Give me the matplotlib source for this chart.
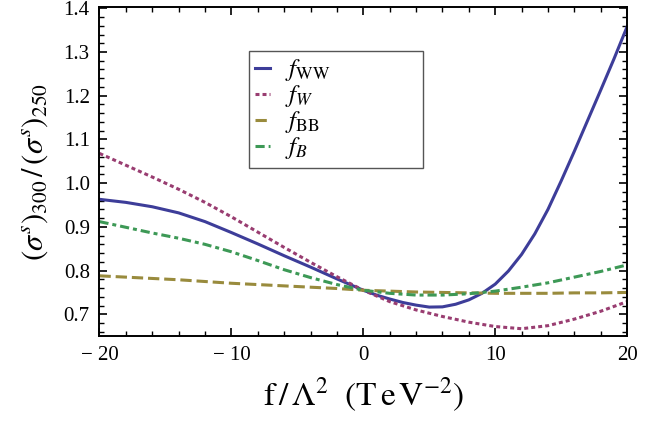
import numpy as np
import matplotlib
matplotlib.use('Agg')
import matplotlib.pyplot as plt
from matplotlib.ticker import MultipleLocator

plt.rcParams['font.family'] = 'serif'
plt.rcParams['font.serif'] = ['Liberation Serif', 'DejaVu Serif']
plt.rcParams['mathtext.fontset'] = 'stix'

# f/Lambda^2 values (TeV^-2)
x = [-20, -18, -16, -14, -12, -10, -8, -6, -4, -2, 0,
     2, 4, 6, 8, 10, 12, 14, 16, 18, 20]
x_ww = [-20, -18, -16, -14, -12, -10, -8, -6, -4, -2, 0,
        1, 2, 3, 4, 5, 6, 7, 8, 9, 10, 11, 12, 13, 14, 15, 16, 17, 18, 19, 20]

# ratio sigma_300 / sigma_250 for each operator
f_ww = [0.963, 0.956, 0.946, 0.932, 0.912, 0.887, 0.861, 0.834, 0.808, 0.781, 0.755,
        0.744, 0.735, 0.727, 0.721, 0.7165, 0.717, 0.723, 0.733, 0.748, 0.769,
        0.799, 0.837, 0.884, 0.940, 1.005, 1.073, 1.143, 1.213, 1.284, 1.358]
f_w = [1.068, 1.041, 1.014, 0.986, 0.956, 0.923, 0.888, 0.853, 0.819, 0.786, 0.755,
       0.729, 0.710, 0.695, 0.682, 0.672, 0.667, 0.674, 0.689, 0.707, 0.729]
f_bb = [0.788, 0.785, 0.782, 0.779, 0.775, 0.771, 0.768, 0.765, 0.762, 0.759, 0.755,
        0.753, 0.751, 0.750, 0.749, 0.748, 0.748, 0.748, 0.749, 0.749, 0.750]
f_b = [0.912, 0.899, 0.886, 0.874, 0.860, 0.843, 0.823, 0.802, 0.784, 0.768, 0.755,
       0.748, 0.744, 0.744, 0.747, 0.753, 0.762, 0.772, 0.785, 0.798, 0.813]

labels = [r'$f_{\rm WW}$', r'$f_W$', r'$f_{\rm BB}$', r'$f_B$']
colors = [(0.24, 0.24, 0.6), (0.6, 0.24, 0.4428), (0.6, 0.547, 0.24), (0.24, 0.6, 0.337)]

fig = plt.figure(figsize=(6.7, 4.36), dpi=100)
ax = fig.add_axes([0.1485, 0.229, 0.7875, 0.755])

lw = 2.2
ax.plot(x_ww, f_ww, color=colors[0], lw=lw, label=labels[0])
ax.plot(x, f_w, color=colors[1], lw=lw, dashes=(1.3, 1.0), label=labels[1])
ax.plot(x, f_bb, color=colors[2], lw=lw, dashes=(3.7, 1.6), label=labels[2])
ax.plot(x, f_b, color=colors[3], lw=lw, dashes=(3.0, 1.3, 1.3, 1.3), label=labels[3])

ax.set_xlim(-20, 20)
ax.set_ylim(0.65, 1.403)

ax.xaxis.set_minor_locator(MultipleLocator(2))
ax.yaxis.set_minor_locator(MultipleLocator(0.02))
ax.set_xticks([-20, -10, 0, 10, 20])
ax.set_xticklabels(['\u2212 20', '\u2212 10', '0', '10', '20'])
ax.set_yticks([0.7, 0.8, 0.9, 1.0, 1.1, 1.2, 1.3, 1.4])
ax.set_yticklabels(['0.7', '0.8', '0.9', '1.0', '1.1', '1.2', '1.3', '1.4'])

ax.tick_params(which='both', direction='in', top=True, right=True,
               labelsize=15, width=1.2, pad=7)
ax.tick_params(which='major', length=6)
ax.tick_params(which='minor', length=3.5, width=1.0)
for s in ax.spines.values():
    s.set_linewidth(1.4)

ax.set_xlabel(r'$\mathrm{f}\,/\,\Lambda^{2}\ \ (\mathrm{T\,e\,V}^{-2})$', fontsize=24, labelpad=8)
ax.set_ylabel(r'$(\sigma^{s})_{300}\,/\,(\sigma^{s})_{250}$', fontsize=22, labelpad=10)

leg = ax.legend(loc='upper left', bbox_to_anchor=(0.283, 0.523, 0.330, 0.343),
                mode='expand', fontsize=18, handlelength=0.6, handletextpad=0.6,
                labelspacing=0.0, borderpad=0.25, fancybox=False, framealpha=1,
                edgecolor='#555555', borderaxespad=0)
leg.get_frame().set_linewidth(1.0)

fig.savefig('out.png', dpi=100)
